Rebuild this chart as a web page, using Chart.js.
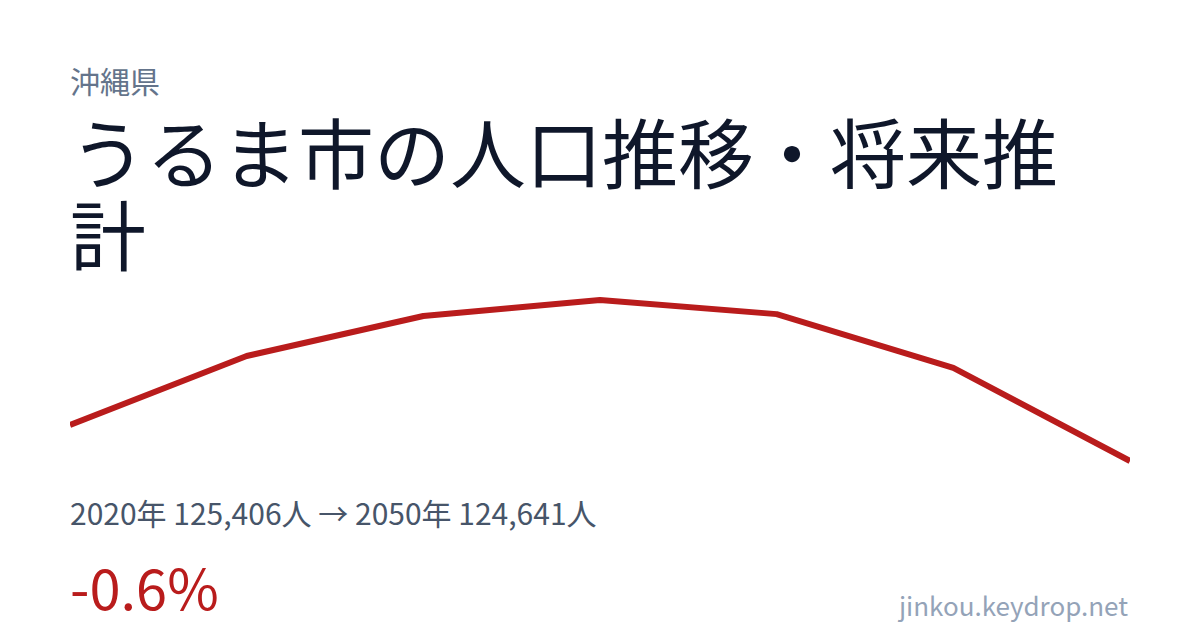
<!DOCTYPE html>
<html><head><meta charset="utf-8">
<script src="https://cdn.jsdelivr.net/npm/chart.js@4"></script>
<style>
html,body{margin:0;padding:0;background:#fff;}
body{width:1200px;height:630px;position:relative;overflow:hidden;font-family:"Noto Sans CJK JP","Noto Sans",sans-serif;}
#pref{position:absolute;left:70px;top:60px;font-size:30px;line-height:40px;color:#64748b;}
#title{position:absolute;left:70px;top:109px;width:1060px;font-size:76px;line-height:82px;color:#0f172a;}
#wrap{position:absolute;left:70px;top:290px;width:1060px;height:180px;}
#stats{position:absolute;left:70px;top:492px;font-size:30px;line-height:40px;color:#475569;}
#pct{position:absolute;left:70px;top:553px;font-size:56px;line-height:66px;color:#b91c1c;}
#site{position:absolute;right:72px;top:587px;font-size:26px;line-height:36px;color:#94a3b8;}
</style></head>
<body>
<div id="pref">沖縄県</div>
<div id="title">うるま市の人口推移・将来推計</div>
<div id="wrap"><canvas id="c"></canvas></div>
<div id="stats">2020年 125,406人 → 2050年 124,641人</div>
<div id="pct">-0.6%</div>
<div id="site">jinkou.keydrop.net</div>
<script>
const years = ["2020","2025","2030","2035","2040","2045","2050"];
const population = [125406, 126870, 127720, 128060, 127760, 126620, 124641];

const ctx = document.getElementById('c');
new Chart(ctx, {
  type: 'line',
  data: { labels: years, datasets: [{ data: population, borderColor: '#b91c1c', borderWidth: 6, pointRadius: 0, tension: 0, fill: false, clip: false, borderCapStyle: 'butt', borderJoinStyle: 'round' }] },
  options: {
    responsive: true, maintainAspectRatio: false, animation: false,
    layout: { padding: { top: 10, bottom: 9, left: 0, right: 0 } },
    plugins: { legend: { display: false }, tooltip: { enabled: false } },
    scales: {
      x: { display: false, offset: false },
      y: { display: false, min: Math.min(...population), max: Math.max(...population) }
    }
  }
});
</script>
</body></html>
